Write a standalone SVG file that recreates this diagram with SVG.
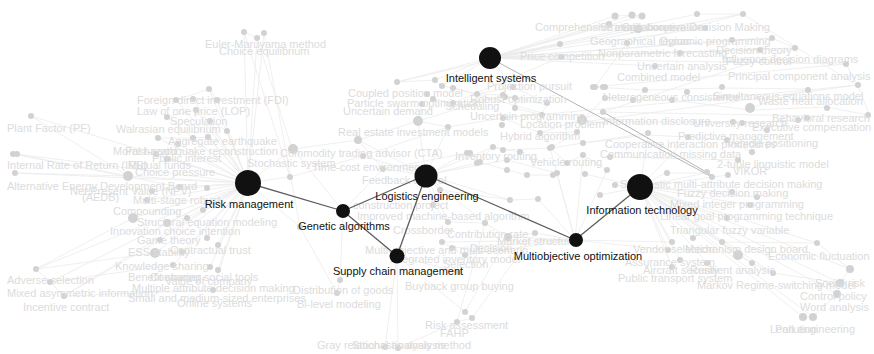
<svg xmlns="http://www.w3.org/2000/svg" width="874" height="354" viewBox="0 0 874 354">
  <style>
    .be{stroke:#ebebeb;stroke-width:0.8;fill:none}
    .bm{stroke:#b4b4b4;stroke-width:1;fill:none}
    .bn circle{fill:#d2d2d2}
    .bl{font-family:"Liberation Sans",Arial,sans-serif;font-size:11px;fill:#dcdcdc}
    .me{stroke:#5c5c5c;stroke-width:1.3;fill:none}
    .mn{fill:#111}
    .ml{font-family:"Liberation Sans",Arial,sans-serif;font-size:11px;fill:#111;text-anchor:middle}
  </style>
  <rect width="874" height="354" fill="#fff"/>

  <!-- faint background links -->
  <g id="background-edges">
    <path class="be" d="
      M248 183 L209 89 M248 183 L176 100 M248 183 L193 99 M248 183 L217 100 M248 183 L196 110 M248 183 L167 117
      M248 183 L210 121 M248 183 L227 131 M248 183 L158 138 M248 183 L193 138 M248 183 L208 137 M248 183 L178 144
      M248 183 L156 154 M248 183 L167 159 M248 183 L128 176 M248 183 L31 116 M248 183 L15 154 M248 183 L15 173
      M248 183 L180 187 M248 183 L152 191 M248 183 L147 200 M248 183 L133 218 M248 183 L167 223 M248 183 L187 218
      M248 183 L207 238 M248 183 L160 240 M248 183 L218 245 M248 183 L182 252 M248 183 L155 253 M248 183 L173 265
      M248 183 L210 267 M248 183 L218 270 M248 183 L213 290 M248 183 L36 269 M248 183 L50 282 M248 183 L64 296
      M248 183 L292 149 M248 183 L288 177 M248 183 L300 227 M248 183 L244 32 M248 183 L257 38 M248 183 L264 33
      M244 32 L257 38 L264 33 M257 38 L292 149 M244 32 L290 177 M264 33 L300 227
      M209 89 L176 100 L193 99 L217 100 L209 89 M196 110 L167 117 M210 121 L227 131 M158 138 L193 138 L208 137
      M156 154 L167 159 M31 116 L128 176 M15 154 L128 176 M15 173 L128 176 M13 154 L180 187
      M36 269 L133 218 M36 269 L155 253 M50 282 L64 296 M36 269 L50 282 M64 296 L160 240 M64 296 L213 290 M50 282 L173 265
      M343 211 L340 280 L337 293 M343 211 L293 149 M343 211 L383 169 M300 227 L337 293
      M397 256 L398 348 M397 256 L385 347 M397 256 L465 312 M397 256 L458 272 M465 312 L472 318 L457 322 M457 322 L398 348
      M465 312 L508 237 M472 318 L535 233 M457 322 L485 223
      M426 175 L418 121 M426 175 L448 127 M426 175 L383 169 M426 175 L363 156 M426 175 L467 153 M426 175 L440 190
      M426 175 L433 205 M426 175 L448 222 M426 175 L485 223 M426 175 L510 200 M426 175 L493 147 M426 175 L358 140
      M426 175 L477 163 M426 175 L507 160
      M575 240 L508 237 M575 240 L535 233 M575 240 L538 199 M575 240 L557 173 M575 240 L583 155 M575 240 L607 170
      M575 240 L550 148 M575 240 L465 255 M575 240 L452 248 M575 240 L442 242 M575 240 L672 242 M575 240 L668 250
      M640 187 L615 185 M640 187 L600 195 M640 187 L585 174 M640 187 L728 175 M640 187 L732 192 M640 187 L757 197
      M640 187 L750 205 M640 187 L727 218 M640 187 L693 238 M640 187 L672 242 M640 187 L722 242 M640 187 L738 255
      M640 187 L752 263 M640 187 L773 273 M640 187 L817 243 M640 187 L850 269 M640 187 L840 283 M640 187 L837 294
      M640 187 L803 317 M640 187 L813 317 M640 187 L668 250 M640 187 L680 260 M640 187 L707 263 M640 187 L672 267
      M640 187 L665 173 M640 187 L705 173 M640 187 L648 135 M640 187 L688 137
      M817 243 L850 269 L840 283 L837 294 L813 317 L803 317 M738 255 L752 263 L773 273 L840 283 M722 242 L817 243
      M490 58 L609 24 M490 58 L638 29 M490 58 L705 28 M490 58 L732 40 M490 58 L772 38 M490 58 L795 48
      M490 58 L760 50 M490 58 L680 53 M490 58 L655 66 M490 58 L846 64 M490 58 L561 57 M490 58 L560 44
      M490 58 L615 16 M490 58 L632 15 M490 58 L642 16 M490 58 L697 14 M490 58 L743 14 M490 58 L397 82
      M490 58 L435 80 M490 58 L442 86 M490 58 L513 87
      M697 14 L743 14 M743 14 L858 86 L870 117 M615 16 L632 15 L642 16 M609 24 L638 29 L705 28 M732 40 L772 38 L795 48
      M846 64 L858 86 M595 87 L645 90 L722 88 L808 89 M633 100 L672 100 L750 110 L827 107 L868 115 M750 108 L808 90
      M582 122 L733 122 L742 123 L798 120 L807 118 M583 143 L648 135 L688 137 L727 140 L752 152 M610 157 L737 160
      M665 173 L705 173 L712 177 M858 85 L808 90 M858 85 L582 122 M870 117 L603 112 M846 64 L593 87
      M795 48 L540 133 M808 90 L503 118 M743 14 L627 43 L595 87
      M397 82 L435 80 L442 86 L453 88 L477 94 L513 87 L547 103 M427 94 L433 99 L453 103 L505 97 L515 98 L515 108 L542 115
      M422 104 L418 121 L448 127 L503 118 L540 133 L552 147 M358 140 L418 121 M363 156 L448 127
      M383 169 L467 153 L477 163 L493 147 L520 152 L507 160 L557 173 M477 94 L503 95 L547 105 L542 113 L503 118
      M582 120 L605 98 L633 100 L645 90 M593 87 L605 87 M648 133 L583 143 L550 148 L567 163 L583 155 L607 170
      M470 153 L480 162 L507 170 L527 175 L553 175 M493 147 L503 150 L550 148 M440 190 L510 200 L538 199
      M433 205 L448 222 L485 223 L508 237 L535 233 M442 242 L452 248 L465 255 M293 149 L358 140 L383 169
      M290 177 L363 156 M418 121 L503 95 M453 88 L542 113 M560 44 L397 82 M561 57 L453 103 M577 132 L540 133
      M582 120 L577 132 L552 147"/>
    <path class="bm" d="M490 58 L712 177 M603 112 L713 176"/>
  </g>

  <!-- faint background nodes -->
  <g id="background-nodes" class="bn">
    <circle cx="244" cy="32" r="3"/><circle cx="257" cy="38" r="3"/><circle cx="264" cy="33" r="3"/>
    <circle cx="31" cy="116" r="3"/><circle cx="13" cy="154" r="3"/><circle cx="17" cy="154" r="3"/>
    <circle cx="15" cy="173" r="3"/><circle cx="128" cy="176" r="5"/><circle cx="209" cy="89" r="3"/>
    <circle cx="176" cy="100" r="3"/><circle cx="193" cy="99" r="3"/><circle cx="217" cy="100" r="3"/>
    <circle cx="196" cy="110" r="3"/><circle cx="167" cy="117" r="3"/><circle cx="210" cy="121" r="3"/>
    <circle cx="227" cy="131" r="3"/><circle cx="158" cy="138" r="3"/><circle cx="193" cy="138" r="3"/>
    <circle cx="208" cy="137" r="3"/><circle cx="178" cy="144" r="3"/><circle cx="156" cy="154" r="3"/>
    <circle cx="167" cy="159" r="3"/><circle cx="293" cy="149" r="5"/><circle cx="290" cy="177" r="3"/>
    <circle cx="180" cy="187" r="3"/><circle cx="152" cy="191" r="3"/><circle cx="207" cy="188" r="3"/>
    <circle cx="147" cy="200" r="3"/><circle cx="203" cy="210" r="3"/><circle cx="133" cy="218" r="5"/>
    <circle cx="167" cy="223" r="4"/><circle cx="187" cy="218" r="3"/><circle cx="207" cy="238" r="3"/>
    <circle cx="160" cy="240" r="3"/><circle cx="218" cy="245" r="3"/><circle cx="182" cy="252" r="3"/>
    <circle cx="155" cy="253" r="5"/><circle cx="173" cy="265" r="3"/><circle cx="210" cy="267" r="3"/>
    <circle cx="218" cy="270" r="3"/><circle cx="36" cy="269" r="3"/><circle cx="50" cy="282" r="3"/>
    <circle cx="64" cy="296" r="3"/><circle cx="213" cy="290" r="3"/><circle cx="300" cy="227" r="3"/>
    <circle cx="560" cy="44" r="3"/><circle cx="561" cy="57" r="3"/><circle cx="397" cy="82" r="3"/>
    <circle cx="435" cy="80" r="3"/><circle cx="442" cy="86" r="3"/><circle cx="453" cy="88" r="3"/>
    <circle cx="427" cy="94" r="3"/><circle cx="433" cy="99" r="3"/><circle cx="477" cy="94" r="3"/>
    <circle cx="513" cy="87" r="3"/><circle cx="505" cy="97" r="3"/><circle cx="515" cy="98" r="3"/>
    <circle cx="422" cy="104" r="3"/><circle cx="453" cy="103" r="3"/><circle cx="515" cy="108" r="3"/>
    <circle cx="542" cy="115" r="3"/><circle cx="547" cy="103" r="3"/><circle cx="418" cy="121" r="5"/>
    <circle cx="448" cy="127" r="3"/><circle cx="503" cy="118" r="3"/><circle cx="502" cy="125" r="3"/>
    <circle cx="540" cy="133" r="3"/><circle cx="552" cy="147" r="3"/><circle cx="358" cy="140" r="4"/>
    <circle cx="363" cy="156" r="3"/><circle cx="383" cy="169" r="3"/><circle cx="467" cy="153" r="3"/>
    <circle cx="477" cy="163" r="3"/><circle cx="493" cy="147" r="3"/><circle cx="520" cy="152" r="3"/>
    <circle cx="507" cy="160" r="3"/><circle cx="557" cy="173" r="3"/><circle cx="577" cy="132" r="3"/>
    <circle cx="503" cy="95" r="3"/><circle cx="582" cy="120" r="5"/><circle cx="593" cy="87" r="3"/>
    <circle cx="605" cy="87" r="3"/><circle cx="605" cy="98" r="3"/><circle cx="633" cy="100" r="3"/>
    <circle cx="645" cy="90" r="3"/><circle cx="648" cy="133" r="3"/><circle cx="503" cy="150" r="3"/>
    <circle cx="550" cy="148" r="3"/><circle cx="583" cy="155" r="3"/><circle cx="607" cy="170" r="3"/>
    <circle cx="583" cy="143" r="3"/><circle cx="567" cy="163" r="3"/><circle cx="470" cy="153" r="3"/>
    <circle cx="480" cy="162" r="3"/><circle cx="507" cy="170" r="3"/><circle cx="527" cy="175" r="3"/>
    <circle cx="553" cy="175" r="3"/>
    <circle cx="603" cy="87" r="3"/><circle cx="687" cy="92" r="3"/><circle cx="722" cy="87" r="3"/>
    <circle cx="808" cy="90" r="3"/><circle cx="858" cy="85" r="3"/><circle cx="672" cy="100" r="3"/>
    <circle cx="750" cy="108" r="5"/><circle cx="827" cy="108" r="3"/><circle cx="868" cy="115" r="3"/>
    <circle cx="603" cy="112" r="3"/><circle cx="733" cy="122" r="3"/><circle cx="742" cy="123" r="3"/>
    <circle cx="767" cy="130" r="3"/><circle cx="798" cy="120" r="3"/><circle cx="807" cy="118" r="3"/>
    <circle cx="688" cy="137" r="3"/><circle cx="727" cy="140" r="3"/><circle cx="752" cy="152" r="3"/>
    <circle cx="738" cy="160" r="3"/><circle cx="667" cy="173" r="3"/><circle cx="707" cy="172" r="3"/>
    <circle cx="712" cy="177" r="3"/><circle cx="615" cy="16" r="3.5"/><circle cx="632" cy="15" r="3.5"/>
    <circle cx="642" cy="16" r="3.5"/><circle cx="697" cy="14" r="3"/><circle cx="743" cy="14" r="3"/>
    <circle cx="609" cy="24" r="3"/><circle cx="638" cy="29" r="4"/><circle cx="705" cy="28" r="3"/>
    <circle cx="732" cy="40" r="3"/><circle cx="772" cy="38" r="3"/><circle cx="795" cy="48" r="3"/>
    <circle cx="760" cy="50" r="3"/><circle cx="680" cy="53" r="3"/><circle cx="655" cy="66" r="3"/>
    <circle cx="627" cy="43" r="3"/><circle cx="846" cy="64" r="3"/><circle cx="595" cy="87" r="3"/>
    <circle cx="610" cy="157" r="3"/>
    <circle cx="440" cy="190" r="3"/><circle cx="433" cy="205" r="3"/><circle cx="448" cy="222" r="3"/>
    <circle cx="485" cy="223" r="3"/><circle cx="508" cy="237" r="4"/><circle cx="535" cy="233" r="3"/>
    <circle cx="442" cy="242" r="3"/><circle cx="452" cy="248" r="3"/><circle cx="465" cy="255" r="3"/>
    <circle cx="510" cy="200" r="3"/><circle cx="538" cy="199" r="3"/><circle cx="340" cy="280" r="3"/>
    <circle cx="337" cy="293" r="3"/><circle cx="458" cy="272" r="3"/><circle cx="465" cy="312" r="3"/>
    <circle cx="472" cy="318" r="3"/><circle cx="457" cy="322" r="3"/><circle cx="398" cy="348" r="3"/>
    <circle cx="385" cy="347" r="3"/>
    <circle cx="585" cy="174" r="3"/><circle cx="615" cy="185" r="3"/><circle cx="600" cy="195" r="3"/>
    <circle cx="728" cy="175" r="3"/><circle cx="732" cy="192" r="3"/><circle cx="757" cy="197" r="3"/>
    <circle cx="750" cy="205" r="3"/><circle cx="727" cy="218" r="3"/><circle cx="693" cy="238" r="3"/>
    <circle cx="672" cy="242" r="3"/><circle cx="722" cy="242" r="3"/><circle cx="738" cy="255" r="5"/>
    <circle cx="752" cy="263" r="3"/><circle cx="773" cy="273" r="3"/><circle cx="817" cy="243" r="3"/>
    <circle cx="668" cy="250" r="3"/><circle cx="680" cy="260" r="3"/><circle cx="707" cy="263" r="3"/>
    <circle cx="672" cy="267" r="3"/><circle cx="850" cy="269" r="4"/><circle cx="840" cy="283" r="4"/>
    <circle cx="837" cy="294" r="4"/><circle cx="803" cy="317" r="4"/><circle cx="813" cy="317" r="4"/>
  </g>

  <!-- faint background labels -->
  <g id="background-labels" class="bl">
    <text x="205" y="48">Euler-Maruyama method</text>
    <text x="219" y="55">Choice equilibrium</text>
    <text x="137" y="104">Foreign direct investment (FDI)</text>
    <text x="137" y="115">Law of one price (LOP)</text>
    <text x="170" y="125">Speculation</text>
    <text x="116" y="133">Walrasian equilibrium</text>
    <text x="168" y="145">Aggregate earthquake</text>
    <text x="113" y="155">Moral hazard</text>
    <text x="125" y="155">Post-earthquake reconstruction</text>
    <text x="152" y="162">Public interest</text>
    <text x="7" y="132">Plant Factor (PF)</text>
    <text x="7" y="169">Internal Rate of Return (IRR)</text>
    <text x="128" y="169">Mutual funds</text>
    <text x="135" y="176">Choice pressure</text>
    <text x="247" y="167">Stochastic system</text>
    <text x="7" y="190">Alternative Energy Development Board</text>
    <text x="82" y="201">(AEDB)</text>
    <text x="70" y="195">Net Present Value (NPV)</text>
    <text x="133" y="204">Multi-stage robust</text>
    <text x="113" y="215">Compounding</text>
    <text x="137" y="226">Structural equation modeling</text>
    <text x="110" y="235">Innovation choice intention</text>
    <text x="137" y="244">Game theory</text>
    <text x="128" y="256">ESS stability</text>
    <text x="170" y="254">Contractual trust</text>
    <text x="115" y="270">Knowledge sharing</text>
    <text x="7" y="284">Adverse selection</text>
    <text x="7" y="297">Mixed asymmetric information</text>
    <text x="23" y="311">Incentive contract</text>
    <text x="128" y="281">Benefit sharing</text>
    <text x="150" y="281">Consumer social tools</text>
    <text x="165" y="285">Value of company</text>
    <text x="132" y="292">Multiple attribute decision making</text>
    <text x="128" y="302">Small and medium-sized enterprises</text>
    <text x="177" y="307">Online systems</text>
    <text x="293" y="294">Distribution of goods</text>
    <text x="297" y="308">Bi-level modeling</text>
    <text x="405" y="290">Buyback group buying</text>
    <text x="425" y="329">Risk assessment</text>
    <text x="440" y="337">FAHP</text>
    <text x="317" y="349">Gray relational analysis method</text>
    <text x="352" y="349">Stochastic analysis</text>
    <text x="348" y="97">Coupled position model</text>
    <text x="347" y="107">Particle swarm optimization</text>
    <text x="343" y="115">Uncertain demand</text>
    <text x="338" y="136">Real estate investment models</text>
    <text x="280" y="157">Commodity trading advisor (CTA)</text>
    <text x="312" y="171">Time-cost environment</text>
    <text x="487" y="90">Projection pursuit</text>
    <text x="535" y="31">Comprehensive evaluation</text>
    <text x="520" y="60">Price competition</text>
    <text x="445" y="110">Scheduling</text>
    <text x="470" y="120">Uncertain programming</text>
    <text x="500" y="140">Hybrid algorithm</text>
    <text x="455" y="160">Inventory routing</text>
    <text x="520" y="128">Location problem</text>
    <text x="530" y="166">Vehicle routing</text>
    <text x="470" y="103">Robust optimization</text>
    <text x="362" y="184">Feedback control</text>
    <text x="353" y="209">construction project</text>
    <text x="357" y="220">Improved machine-based algorithm</text>
    <text x="393" y="234">Crossborder</text>
    <text x="447" y="238">Contribution rate</text>
    <text x="365" y="254">Multi-objective and multi-scenario</text>
    <text x="390" y="263">Integrated inventory model</text>
    <text x="443" y="268">Selection</text>
    <text x="470" y="252">Decision</text>
    <text x="497" y="245">Market structure</text>
    <text x="598" y="57">Nonparametric forecasting</text>
    <text x="660" y="45">Dynamic programming</text>
    <text x="590" y="45">Geographical region</text>
    <text x="600" y="31">Strategic cooperation</text>
    <text x="622" y="31">Collaborative Decision Making</text>
    <text x="716" y="54">Decision theory</text>
    <text x="722" y="63">Influence decision diagrams</text>
    <text x="726" y="65">Fuzzy control</text>
    <text x="637" y="70">Uncertain analysis</text>
    <text x="617" y="81">Combined model</text>
    <text x="728" y="80">Principal component analysis</text>
    <text x="713" y="100">Simultaneous equations model</text>
    <text x="758" y="105">Waste heat allocation</text>
    <text x="603" y="101">Heterogeneous consistence</text>
    <text x="772" y="122">Behavioral research</text>
    <text x="752" y="131">Executive compensation</text>
    <text x="603" y="125">Information disclosure</text>
    <text x="693" y="127">University research</text>
    <text x="678" y="140">Predictive management</text>
    <text x="727" y="147">Vehicle positioning</text>
    <text x="605" y="148">Cooperative interaction procedures</text>
    <text x="600" y="158">Communication missing data</text>
    <text x="717" y="168">2-tuple linguistic model</text>
    <text x="733" y="175">VIKOR</text>
    <text x="620" y="188">Stochastic multi-attribute decision making</text>
    <text x="677" y="197">Fuzzy decision making</text>
    <text x="670" y="208">Mixed integer programming</text>
    <text x="660" y="220">Linear goal programming technique</text>
    <text x="670" y="234">Triangular fuzzy variable</text>
    <text x="633" y="253">Vendor selection</text>
    <text x="685" y="253">Mechanism design board</text>
    <text x="768" y="260">Economic fluctuation</text>
    <text x="625" y="266">Assurance system</text>
    <text x="643" y="274">Aircraft security</text>
    <text x="690" y="274">Resilient analysis</text>
    <text x="618" y="282">Public transport system</text>
    <text x="697" y="289">Markov Regime-switching model</text>
    <text x="815" y="287">Social risk</text>
    <text x="800" y="300">Control policy</text>
    <text x="800" y="311">Word analysis</text>
    <text x="770" y="333">Lean engineering</text>
    <text x="775" y="333">Pollution</text>
  </g>

  <!-- main links -->
  <g id="connectors">
    <line class="me" x1="248" y1="183" x2="343" y2="211"/>
    <line class="me" x1="343" y1="211" x2="426" y2="175"/>
    <line class="me" x1="343" y1="211" x2="397" y2="256"/>
    <line class="me" x1="426" y1="175" x2="397" y2="256"/>
    <line class="me" x1="426" y1="175" x2="575" y2="240"/>
    <line class="me" x1="575" y1="240" x2="640" y2="187"/>
  </g>

  <!-- main nodes -->
  <g id="intelligent-systems">
    <circle class="mn" cx="490" cy="58" r="11"/>
    <text class="ml" x="491" y="82">Intelligent systems</text>
  </g>
  <g id="risk-management">
    <circle class="mn" cx="248" cy="183" r="13"/>
    <text class="ml" x="249" y="208">Risk management</text>
  </g>
  <g id="logistics-engineering">
    <circle class="mn" cx="426" cy="176" r="11.5"/>
    <text class="ml" x="427" y="200">Logistics engineering</text>
  </g>
  <g id="information-technology">
    <circle class="mn" cx="640" cy="187" r="13"/>
    <text class="ml" x="642" y="214">Information technology</text>
  </g>
  <g id="genetic-algorithms">
    <circle class="mn" cx="343" cy="211" r="7"/>
    <text class="ml" x="344" y="230">Genetic algorithms</text>
  </g>
  <g id="supply-chain-management">
    <circle class="mn" cx="397" cy="256" r="7.5"/>
    <text class="ml" x="398" y="275">Supply chain management</text>
  </g>
  <g id="multiobjective-optimization">
    <circle class="mn" cx="576" cy="240" r="7"/>
    <text class="ml" x="578" y="260">Multiobjective optimization</text>
  </g>
</svg>
